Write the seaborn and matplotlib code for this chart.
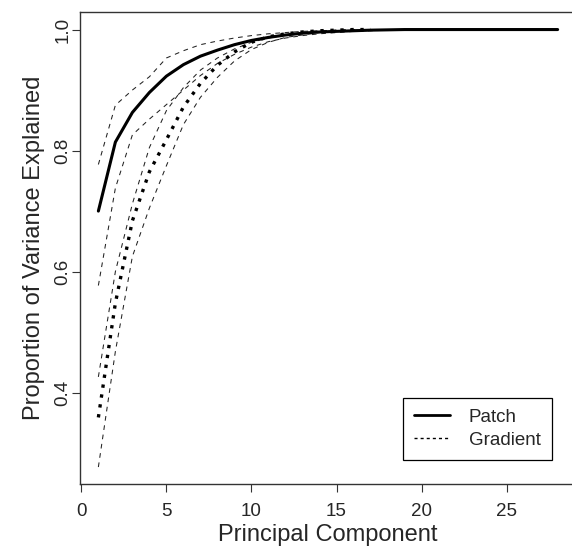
import numpy as np
import pandas as pd
import matplotlib
matplotlib.use("Agg")
import matplotlib.pyplot as plt
from matplotlib.lines import Line2D
import seaborn as sns

# ---- data ----
patch_mean = [0.700, 0.814, 0.863, 0.896, 0.923, 0.942, 0.956, 0.966, 0.975, 0.982,
              0.987, 0.991, 0.994, 0.996, 0.997, 0.998, 0.999, 0.9995, 1.0, 1.0,
              1.0, 1.0, 1.0, 1.0, 1.0, 1.0, 1.0, 1.0]
patch_upper = [0.777, 0.875, 0.900, 0.922, 0.953, 0.965, 0.975, 0.981, 0.986, 0.990,
               0.993, 0.995, 0.997, 0.998, 0.999, 1.0, 1.0, 1.0, 1.0, 1.0]
patch_lower = [0.577, 0.738, 0.826, 0.852, 0.876, 0.900, 0.924, 0.944, 0.959, 0.971,
               0.980, 0.986, 0.990, 0.993, 0.995, 0.997, 0.998, 0.999, 1.0, 1.0]
grad_mean = [0.359, 0.548, 0.684, 0.765, 0.818, 0.872, 0.911, 0.941, 0.963, 0.979,
             0.988, 0.993, 0.996, 0.998, 0.999, 1.0, 1.0]
grad_upper = [0.426, 0.600, 0.712, 0.805, 0.866, 0.904, 0.933, 0.953, 0.968, 0.979,
              0.986, 0.991, 0.995, 0.997, 0.999, 1.0, 1.0]
grad_lower = [0.277, 0.468, 0.625, 0.705, 0.775, 0.843, 0.888, 0.921, 0.948, 0.967,
              0.979, 0.987, 0.991, 0.995, 0.997, 0.999, 1.0]
legend_labels = ["Patch", "Gradient"]
x_ticks = [0, 5, 10, 15, 20, 25]
y_ticks = [0.4, 0.6, 0.8, 1.0]
x_label = "Principal Component"
y_label = "Proportion of Variance Explained"

sns.set_style("white")
plt.rcParams["font.family"] = ["Liberation Sans", "DejaVu Sans"]

fig = plt.figure(figsize=(5.72, 5.46), dpi=100)
W, H = 572, 546
ax = fig.add_axes([80 / W, 1 - 484 / H, 496 / W, 472 / H])

def comp(vals):
    return np.arange(1, len(vals) + 1)

def draw(vals, lw, dashes):
    df = pd.DataFrame({"pc": comp(vals), "v": vals})
    n0 = len(ax.lines)
    sns.lineplot(data=df, x="pc", y="v", ax=ax, color="black", linewidth=lw,
                 legend=False, estimator=None, sort=False)
    ln = ax.lines[n0]
    if dashes is not None:
        ln.set_dashes(dashes)
    return ln

# thin dashed bounds
for arr in (patch_upper, patch_lower, grad_upper, grad_lower):
    ln = draw(arr, 0.75, (4.5, 4.5))
    ln.set_color("#222222")
# means
draw(patch_mean, 2.2, None)
ln = draw(grad_mean, 2.4, (1, 2.0))

ax.set_xlim(-0.08, 29.08)
ax.set_ylim(0.249, 1.029)
ax.set_xticks(x_ticks)
ax.set_xticklabels([str(t) for t in x_ticks])
ax.set_yticks(y_ticks)
ax.set_yticklabels([f"{t:.1f}" for t in y_ticks])
ax.tick_params(axis="both", which="major", direction="out", length=5.5, width=0.8,
               color="#333333", labelsize=13.5, bottom=True, left=True)
ax.tick_params(axis="x", pad=8)
ax.tick_params(axis="y", pad=0.5)
for lbl in ax.get_yticklabels():
    lbl.set_rotation(90)
    lbl.set_va("center")
    lbl.set_ha("right")
for s in ax.spines.values():
    s.set_color("#333333")
    s.set_linewidth(1.0)
    s.set_visible(True)
ax.spines["right"].set_visible(False)

ax.set_xlabel(x_label, fontsize=17, labelpad=3)
ax.set_ylabel(y_label, fontsize=17, labelpad=7)

handles = [Line2D([0], [0], color="black", lw=2.0),
           Line2D([0], [0], color="black", lw=1.0, dashes=(2.2, 2.2))]
leg = ax.legend(handles, legend_labels, loc="lower right",
                bbox_to_anchor=((552 - 80) / 496, (484 - 460) / 472),
                borderaxespad=0, fontsize=13.5, handlelength=1.9,
                handletextpad=1.0, borderpad=0.6, labelspacing=0.3,
                frameon=True, fancybox=False, framealpha=1, edgecolor="black")
leg.get_frame().set_linewidth(0.9)

fig.savefig("out.png", dpi=100)
